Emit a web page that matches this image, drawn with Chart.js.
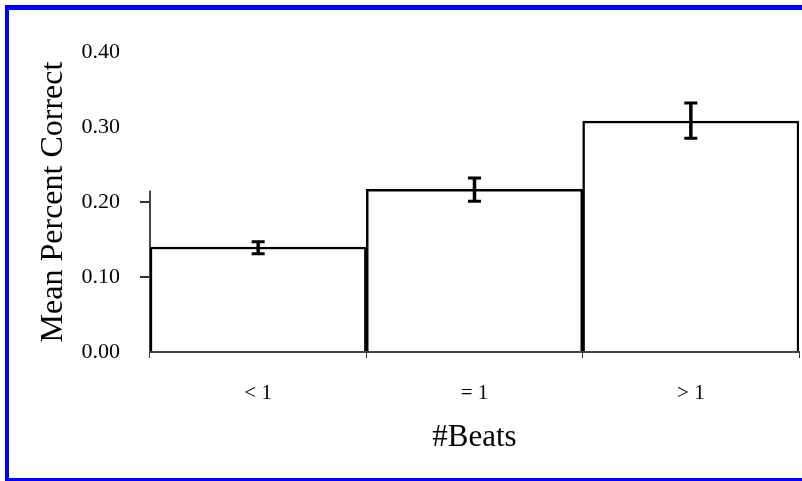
<!DOCTYPE html>
<html>
<head>
<meta charset="utf-8">
<script src="https://cdn.jsdelivr.net/npm/chart.js@4/dist/chart.umd.min.js"></script>
<style>
  html, body { margin: 0; padding: 0; background: #fff; overflow: hidden; }
  #frame { position: absolute; left: 5px; top: 5px; width: 830px; height: 476px; box-sizing: border-box;
           border-top: 5px solid #0000ff; border-left: 4px solid #0000ff; border-bottom: 3px solid #0000ff; }
  #wrap { position: absolute; left: 0; top: 0; width: 802px; height: 481px; }
</style>
</head>
<body>
<div id="frame"></div>
<div id="wrap"><canvas id="c" width="802" height="481"></canvas></div>
<script>
const categories = ['< 1', '= 1', '> 1'];
const meanCorrect = [0.140, 0.217, 0.308];
const errLow = [0.131, 0.201, 0.285];
const errHigh = [0.147, 0.232, 0.332];
const yTickValues = [0.00, 0.10, 0.20, 0.30, 0.40];
const yAxisLineTop = 0.215;

const serif = '"Liberation Serif", "Times New Roman", serif';

const errorBarPlugin = {
  id: 'errorBars',
  afterDatasetsDraw(chart) {
    const ctx = chart.ctx;
    const yScale = chart.scales.y;
    const meta = chart.getDatasetMeta(0);
    ctx.save();
    ctx.strokeStyle = '#000';
    meta.data.forEach((bar, i) => {
      const x = bar.x;
      const yl = yScale.getPixelForValue(errLow[i]);
      const yh = yScale.getPixelForValue(errHigh[i]);
      ctx.lineWidth = 3.5;
      ctx.beginPath();
      ctx.moveTo(x, yl); ctx.lineTo(x, yh);
      ctx.stroke();
      ctx.lineWidth = 3;
      ctx.beginPath();
      ctx.moveTo(x - 6.5, yl); ctx.lineTo(x + 6.5, yl);
      ctx.moveTo(x - 6.5, yh); ctx.lineTo(x + 6.5, yh);
      ctx.stroke();
    });
    ctx.restore();
  }
};

const yAxisLinePlugin = {
  id: 'yAxisLine',
  beforeDatasetsDraw(chart) {
    const ctx = chart.ctx;
    const yScale = chart.scales.y;
    const x = chart.chartArea.left;
    ctx.save();
    ctx.strokeStyle = '#444';
    ctx.lineWidth = 2;
    ctx.beginPath();
    ctx.moveTo(x, yScale.getPixelForValue(0));
    ctx.lineTo(x, yScale.getPixelForValue(yAxisLineTop));
    ctx.stroke();
    ctx.restore();
  }
};

new Chart(document.getElementById('c'), {
  type: 'bar',
  data: {
    labels: categories,
    datasets: [{
      data: meanCorrect,
      backgroundColor: '#ffffff',
      borderColor: '#000000',
      borderWidth: 2.5,
      categoryPercentage: 1.0,
      barPercentage: 1.0
    }]
  },
  options: {
    responsive: false,
    animation: false,
    events: [],
    layout: { padding: { left: 30, right: 3, top: 52, bottom: 20 } },
    plugins: { legend: { display: false }, tooltip: { enabled: false } },
    scales: {
      x: {
        offset: true,
        border: { display: true, color: '#444', width: 2 },
        grid: { display: true, drawOnChartArea: false, offset: true, drawTicks: true, tickLength: 6, color: '#333', lineWidth: 1 },
        ticks: { color: '#000', padding: 23, font: { family: serif, size: 21 } },
        title: { display: true, text: '#Beats', color: '#000', font: { family: serif, size: 31 }, padding: { top: 0, bottom: 5 } },
        afterFit(scale) { scale.height = 109; }
      },
      y: {
        min: 0, max: 0.4,
        afterBuildTicks(scale) { scale.ticks = yTickValues.map(v => ({ value: v })); },
        border: { display: false },
        grid: {
          display: true, drawOnChartArea: false, drawTicks: true, tickLength: 10, lineWidth: 2,
          color: (c) => (c.tick && c.tick.value > 0.001 && c.tick.value <= 0.2001) ? '#333' : 'rgba(0,0,0,0)'
        },
        ticks: { color: '#000', padding: 20, font: { family: serif, size: 22 }, callback: (v) => Number(v).toFixed(2) },
        title: { display: true, text: 'Mean Percent Correct', color: '#000', font: { family: serif, size: 32 }, padding: { top: 4, bottom: 0 } },
        afterFit(scale) { scale.width = 120; }
      }
    }
  },
  plugins: [yAxisLinePlugin, errorBarPlugin]
});
</script>
</body>
</html>
